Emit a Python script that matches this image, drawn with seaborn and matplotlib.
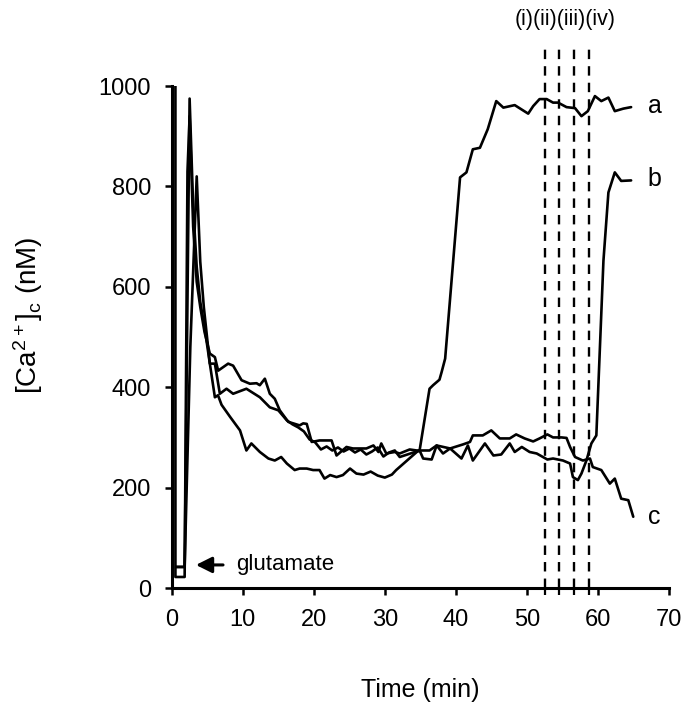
import numpy as np
import pandas as pd
import seaborn as sns
import matplotlib
matplotlib.use('Agg')
import matplotlib.pyplot as plt

sns.set_style('ticks')
plt.rcParams['font.family'] = ['Liberation Sans', 'DejaVu Sans']
plt.rcParams['mathtext.default'] = 'regular'
plt.rcParams['text.color'] = 'black'
plt.rcParams['xtick.color'] = 'black'
plt.rcParams['ytick.color'] = 'black'
plt.rcParams['axes.edgecolor'] = 'black'
plt.rcParams['axes.labelcolor'] = 'black'

# trace a: lowest during the plateau, rises at ~36 min
time_a = [0.6, 1.8, 2.5, 3.0, 3.5, 4.0, 4.6, 5.35, 6.06, 6.5, 7.0, 8.2, 9.6, 10.5, 11.2,
          12.4, 13.6, 14.5, 15.4, 16.2, 17.3, 18.0, 19.0, 19.9, 20.8, 21.5, 22.3, 23.2,
          24.1, 25.1, 26.0, 27.0, 28.0, 29.0, 30.0, 31.0, 31.6, 34.5, 34.9, 36.3, 36.8,
          37.7, 38.0, 38.5, 40.6, 41.5, 42.4, 43.4, 44.5, 45.7, 46.7, 48.3, 50.2, 50.9,
          51.8, 52.8, 53.7, 54.4, 55.6, 56.8, 57.7, 58.6, 59.6, 60.5, 61.5, 62.4, 63.6, 64.7]
ca_a = [42, 42, 975, 760, 640, 570, 520, 447, 380, 384, 365, 341, 314, 274, 288,
        271, 258, 254, 261, 248, 235, 238, 238, 235, 235, 218, 225, 221,
        225, 238, 228, 226, 232, 224, 220, 226, 235, 271, 274, 397, 404,
        415, 430, 457, 818, 828, 874, 877, 914, 970, 957, 962, 945, 960,
        974, 974, 967, 967, 958, 956, 940, 950, 980, 970, 977, 950, 955, 958]

# trace b: dips near 57 min then rises to ~820
time_b = [0.6, 1.8, 2.6, 3.5, 4.0, 4.5, 5.35, 6.06, 6.76, 7.7, 8.63, 10.5, 12.4, 13.8,
          15.0, 16.2, 17.0, 17.8, 18.6, 19.4, 20.2, 21.0, 21.8, 22.6, 23.4, 24.2, 25.0,
          25.8, 26.6, 27.4, 28.2, 29.0, 29.8, 30.6, 31.4, 32.1, 34.9, 35.4, 36.6, 37.3,
          38.2, 39.2, 40.8, 41.7, 42.4, 44.1, 45.3, 46.4, 47.6, 48.3, 49.3, 50.4, 51.4,
          52.9, 53.7, 55.1, 56.1, 56.5, 57.2, 57.7, 58.4, 59.1, 59.8, 60.8, 61.5, 62.4,
          63.3, 64.7]
ca_b = [42, 42, 480, 820, 650, 560, 447, 447, 387, 397, 387, 397, 380, 360,
        354, 334, 326, 320, 312, 296, 290, 276, 282, 274, 280, 272, 278,
        270, 276, 266, 272, 280, 262, 270, 274, 261, 274, 258, 256, 284,
        268, 278, 258, 284, 254, 288, 264, 266, 288, 271, 281, 271, 268,
        256, 258, 254, 248, 221, 215, 228, 254, 288, 304, 652, 788, 828,
        811, 812]

# trace c: stays low and declines at the end
time_c = [0.5, 0.5, 1.8, 2.2, 2.5, 3.0, 3.5, 4.0, 4.6, 5.35, 6.06, 6.52, 7.93, 8.63,
          9.82, 10.99, 11.93, 12.39, 13.1, 13.8, 14.5, 15.2, 16.4, 17.1, 18.0, 18.5,
          19.0, 19.7, 20.8, 22.5, 23.2, 24.6, 25.5, 27.4, 28.4, 29.1, 29.5, 30.2, 31.4,
          32.1, 33.5, 34.5, 36.3, 37.3, 39.2, 41.0, 42.0, 42.4, 43.8, 45.0, 46.2, 47.6,
          48.5, 49.7, 50.9, 51.8, 52.9, 53.7, 54.9, 55.6, 56.1, 56.8, 57.9, 58.9, 59.3,
          60.5, 61.7, 62.4, 63.3, 64.3, 65.0]
ca_c = [1000, 22, 22, 830, 940, 720, 610, 560, 510, 467, 460, 433, 447, 443,
        414, 407, 408, 404, 417, 387, 377, 354, 331, 328, 324, 328,
        327, 291, 294, 294, 264, 281, 278, 278, 284, 271, 288, 268, 271,
        268, 276, 274, 274, 284, 278, 286, 291, 304, 304, 314, 298, 298,
        306, 298, 292, 298, 306, 300, 300, 299, 281, 261, 254, 258, 241,
        235, 208, 218, 178, 175, 142]

mark_times = [52.6, 54.6, 56.7, 58.7]
mark_label = '(i)(ii)(iii)(iv)'

df = pd.concat([
    pd.DataFrame({'time': time_a, 'ca': ca_a, 'trace': 'a'}),
    pd.DataFrame({'time': time_b, 'ca': ca_b, 'trace': 'b'}),
    pd.DataFrame({'time': time_c, 'ca': ca_c, 'trace': 'c'}),
], ignore_index=True)

fig = plt.figure(figsize=(6.93, 7.2), dpi=100)
ax = fig.add_axes([0.248, 0.1833, 0.717, 0.6972])

sns.lineplot(data=df, x='time', y='ca', units='trace', estimator=None, sort=False,
             color='black', linewidth=1.9, ax=ax)

ax.vlines(mark_times, 0, 1085, colors='black', linewidth=1.7,
          linestyles=(0, (4, 3)), clip_on=False)
ax.text(55.4, 1132, mark_label, ha='center', va='center', fontsize=15.5)

ax.text(68, 960, 'a', ha='center', va='center', fontsize=18)
ax.text(68, 815, 'b', ha='center', va='center', fontsize=18)
ax.text(68, 141, 'c', ha='center', va='center', fontsize=18)

ax.annotate('', xy=(3.0, 46), xytext=(7.6, 46),
            arrowprops=dict(arrowstyle='-|>', color='black', lw=2.2, mutation_scale=24))
ax.text(9.0, 46, 'glutamate', ha='left', va='center', fontsize=16)

ax.set_xlim(0, 70)
ax.set_ylim(0, 1000)
ax.set_xticks(range(0, 71, 10))
ax.set_yticks(range(0, 1001, 200))
ax.set_xticks(mark_times, minor=True)
ax.tick_params(axis='both', which='major', direction='out', length=5, width=1.8,
               labelsize=17, pad=10)
ax.tick_params(axis='x', which='minor', direction='out', length=5, width=1.6)

ax.set_xlabel('Time (min)', fontsize=18)
ax.set_ylabel('[Ca$^{2+}$]$_c$ (nM)', fontsize=20)
ax.xaxis.set_label_coords(0.5, -0.18)
ax.yaxis.set_label_coords(-0.255, 0.544)

sns.despine(ax=ax)
for side in ['left', 'bottom']:
    ax.spines[side].set_linewidth(2.2)

fig.savefig('out.png', dpi=100)
